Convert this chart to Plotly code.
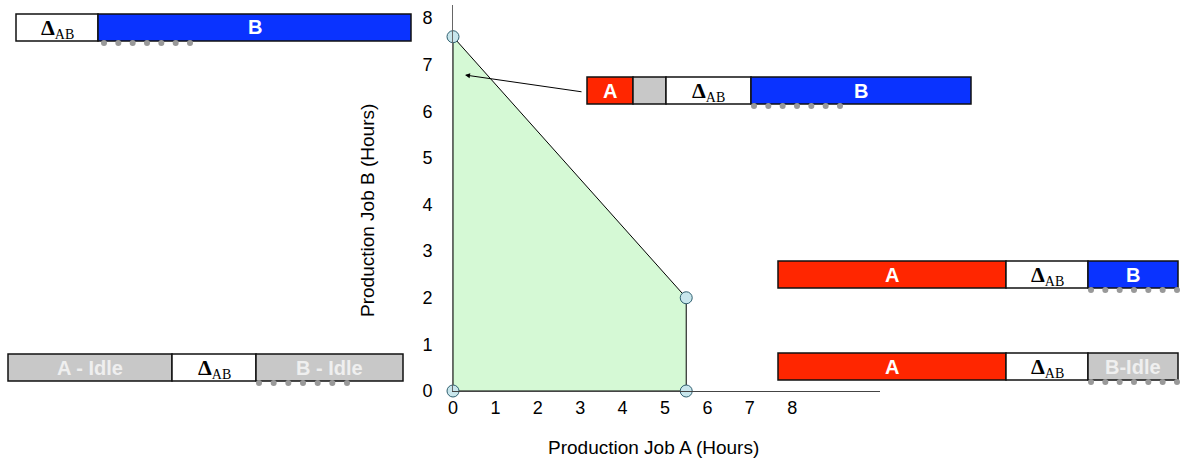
import plotly.graph_objects as go

# ---------------- data ----------------
region_x = [0, 0, 5.5, 5.5]          # Production Job A (Hours)
region_y = [0, 7.6, 2, 0]            # Production Job B (Hours)
x_ticks = [0, 1, 2, 3, 4, 5, 6, 7, 8]
y_ticks = [0, 1, 2, 3, 4, 5, 6, 7, 8]
x_title = "Production Job A (Hours)"
y_title = "Production Job B (Hours)"

sched_top_left = ["ΔAB", "B"]
sched_middle = ["A", "", "ΔAB", "B"]
sched_right_up = ["A", "ΔAB", "B"]
sched_right_low = ["A", "ΔAB", "B-Idle"]
sched_left_low = ["A - Idle", "ΔAB", "B - Idle"]

# ---------------- styles / layout ----------------
W, H = 1181, 459
X0, X1 = 453, 880       # plot area in pixels
Y0, Y1 = 391, 5
BLUE = "#0a33ff"
RED = "#ff2600"
GREY = "#c8c8c8"
FILL = "#d5f9d5"


def PX(v):
    return v / W


def PY(v):
    return 1 - v / H


seg_style = {
    "A": (RED, "white"),
    "B": (BLUE, "white"),
    "ΔAB": ("white", "black"),
    "": (GREY, "white"),
    "A - Idle": (GREY, "#efefef"),
    "B - Idle": (GREY, "#efefef"),
    "B-Idle": (GREY, "#efefef"),
}

# geometry of each schedule bar: (labels, edges in px, top, bottom, dot range)
schedules = [
    (sched_top_left, [16, 98, 411], 14, 41, (104, 190)),
    (sched_middle, [587, 633, 666, 751, 971], 77, 104, (754, 840)),
    (sched_right_up, [778, 1006, 1088, 1178], 261, 288, (1091, 1177)),
    (sched_right_low, [778, 1006, 1088, 1178], 353, 380, (1091, 1177)),
    (sched_left_low, [8, 172, 256, 403], 354, 381, (259, 347)),
]

fig = go.Figure()

fig.add_trace(go.Scatter(
    x=region_x + [region_x[0]], y=region_y + [region_y[0]],
    mode="lines", fill="toself", fillcolor=FILL,
    line=dict(color="black", width=1), hoverinfo="skip", showlegend=False,
))
fig.add_trace(go.Scatter(
    x=region_x, y=region_y, mode="markers",
    marker=dict(size=12, color="#c8e6ec", line=dict(color="#2f5f6f", width=1)),
    showlegend=False, cliponaxis=False,
))

shapes = []
annotations = []
for labels, edges, top, bot, dots in schedules:
    for i, lab in enumerate(labels):
        fc, tc = seg_style[lab]
        shapes.append(dict(type="rect", xref="paper", yref="paper",
                           x0=PX(edges[i]), x1=PX(edges[i + 1]), y0=PY(top), y1=PY(bot),
                           fillcolor=fc, line=dict(color="#111", width=1.5)))
        cx = (edges[i] + edges[i + 1]) / 2
        cy = (top + bot) / 2
        if lab == "ΔAB":
            annotations.append(dict(xref="paper", yref="paper", x=PX(cx), y=PY(cy + 1),
                                    xanchor="center", yanchor="middle",
                                    text="<b><span style='font-size:22px'>Δ</span></b><sub>AB</sub>",
                                    showarrow=False,
                                    font=dict(family="Liberation Serif", size=20, color=tc)))
        elif lab:
            annotations.append(dict(xref="paper", yref="paper", x=PX(cx), y=PY(cy),
                                    xanchor="center", yanchor="middle",
                                    text="<b>%s</b>" % lab, showarrow=False,
                                    font=dict(family="Liberation Sans", size=20, color=tc)))
    n = 7
    for k in range(n):
        dcx = dots[0] + k * (dots[1] - dots[0]) / (n - 1)
        dcy = bot + 2
        shapes.append(dict(type="circle", xref="paper", yref="paper",
                           x0=PX(dcx - 3), x1=PX(dcx + 3), y0=PY(dcy - 3), y1=PY(dcy + 3),
                           fillcolor="#999999", line=dict(width=0)))

# arrow
annotations.append(dict(xref="paper", yref="paper", axref="pixel", ayref="pixel",
                        x=PX(465), y=PY(75), ax=583 - 465, ay=92 - 75, text="", showarrow=True,
                        arrowhead=2, arrowsize=1, arrowwidth=1, arrowcolor="black"))
# axis titles
annotations.append(dict(xref="paper", yref="paper", x=PX(653), y=PY(447), text=x_title,
                        xanchor="center", yanchor="middle",
                        showarrow=False, font=dict(family="Liberation Sans", size=19, color="black")))
annotations.append(dict(xref="paper", yref="paper", x=PX(367), y=PY(211), text=y_title, textangle=-90,
                        xanchor="center", yanchor="middle",
                        showarrow=False, font=dict(family="Liberation Sans", size=19, color="black")))

xr = 10.07
yr = 8.28
fig.update_layout(
    width=W, height=H, margin=dict(l=0, r=0, t=0, b=0, pad=0), autosize=False,
    paper_bgcolor="white", plot_bgcolor="white",
    xaxis=dict(domain=[X0 / W, X1 / W], range=[0, xr], tickvals=x_ticks,
               showgrid=False, zeroline=False, showline=True, linecolor="#444", linewidth=1,
               ticks="", automargin=False,
               tickfont=dict(family="Liberation Sans", size=18, color="black")),
    yaxis=dict(domain=[(H - Y0) / H, (H - Y1) / H], range=[0, yr], tickvals=y_ticks,
               showgrid=False, zeroline=False, showline=True, linecolor="#666", linewidth=1,
               ticks="", automargin=False, ticklabelstandoff=16,
               tickfont=dict(family="Liberation Sans", size=18, color="black")),
    shapes=shapes, annotations=annotations, showlegend=False,
)

fig.write_html("out.html", config={"displayModeBar": False},
               post_script="document.body.style.margin='0px';document.body.style.overflow='hidden';")
